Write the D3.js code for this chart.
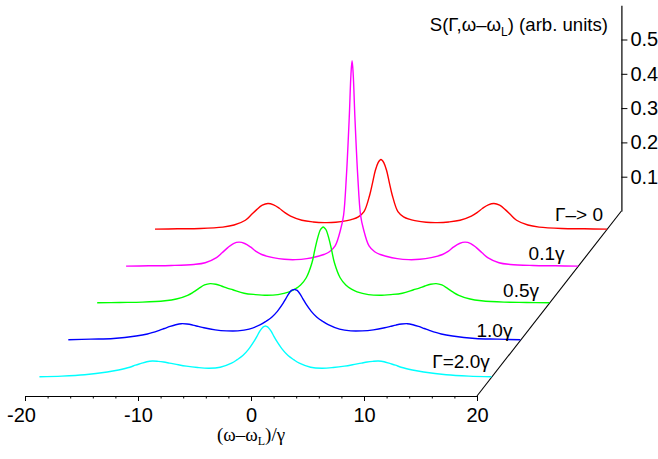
<!DOCTYPE html>
<html>
<head>
<meta charset="utf-8">
<script src="https://cdn.jsdelivr.net/npm/d3@7"></script>
<style>
  html, body { margin: 0; padding: 0; background: #fff; }
  svg { display: block; }
  text { font-family: "Liberation Sans", Arial, sans-serif; fill: #000; }
</style>
</head>
<body>
<svg id="chart" width="658" height="459"></svg>
<script>
// Detuning grid (ω–ω_L)/γ shared by every spectrum
const detuning = [-20,-18,-16,-14,-13,-12,-11.5,-11,-10.5,-10,-9.5,-9,-8.5,-8,-7,-6,-5,-4,-3,-2.5,-2,-1.5,-1,-0.75,-0.5,-0.25,-0.1,
  0,
  0.1,0.25,0.5,0.75,1,1.5,2,2.5,3,4,5,6,7,8,8.5,9,9.5,10,10.5,11,11.5,12,13,14,16,18,20];

// Spectra S(Γ, ω–ω_L), one per laser linewidth Γ (back to front)
const specGamma0 = [0.001,0.002,0.003,0.007,0.013,0.027,0.042,0.058,0.071,0.076,0.072,0.062,0.049,0.039,0.027,0.022,0.020,0.021,0.026,0.030,0.037,0.052,0.100,0.135,0.172,0.195,0.202,
  0.204,
  0.202,0.195,0.172,0.135,0.100,0.052,0.037,0.030,0.026,0.021,0.020,0.022,0.027,0.039,0.049,0.062,0.072,0.076,0.071,0.058,0.042,0.027,0.013,0.007,0.003,0.002,0.001];
const specGamma01 = [0.001,0.002,0.003,0.006,0.011,0.026,0.040,0.055,0.067,0.071,0.067,0.057,0.044,0.035,0.026,0.021,0.020,0.023,0.030,0.035,0.043,0.060,0.110,0.150,0.265,0.435,0.560,
  0.600,
  0.560,0.435,0.265,0.150,0.110,0.060,0.043,0.035,0.030,0.023,0.020,0.021,0.026,0.035,0.044,0.057,0.067,0.071,0.067,0.055,0.040,0.026,0.011,0.006,0.003,0.002,0.001];
const specGamma05 = [0.002,0.003,0.004,0.008,0.013,0.024,0.033,0.044,0.054,0.058,0.056,0.051,0.045,0.040,0.030,0.026,0.024,0.026,0.034,0.042,0.054,0.075,0.118,0.155,0.190,0.215,0.221,
  0.223,
  0.221,0.215,0.190,0.155,0.118,0.075,0.054,0.042,0.034,0.026,0.024,0.026,0.030,0.040,0.045,0.051,0.056,0.058,0.054,0.044,0.033,0.024,0.013,0.008,0.004,0.003,0.002];
const specGamma10 = [0.002,0.004,0.006,0.013,0.019,0.029,0.035,0.041,0.046,0.049,0.048,0.045,0.041,0.037,0.031,0.028,0.028,0.033,0.046,0.056,0.068,0.085,0.108,0.122,0.136,0.146,0.148,
  0.149,
  0.148,0.146,0.136,0.122,0.108,0.085,0.068,0.056,0.046,0.033,0.028,0.028,0.031,0.037,0.041,0.045,0.048,0.049,0.046,0.041,0.035,0.029,0.019,0.013,0.006,0.004,0.002];
const specGamma20 = [0.002,0.004,0.008,0.016,0.022,0.030,0.036,0.041,0.046,0.048,0.047,0.045,0.042,0.039,0.033,0.029,0.027,0.030,0.042,0.052,0.064,0.082,0.106,0.120,0.135,0.146,0.149,
  0.150,
  0.149,0.146,0.135,0.120,0.106,0.082,0.064,0.052,0.042,0.030,0.027,0.029,0.033,0.039,0.042,0.045,0.047,0.048,0.046,0.041,0.036,0.030,0.022,0.016,0.008,0.004,0.002];

// Curve labels, front to back
const seriesLabels = ["Γ=2.0γ", "1.0γ", "0.5γ", "0.1γ", "Γ–> 0"];
const seriesColors = ["#00ffff", "#0000ff", "#00ff00", "#ff00ff", "#ff0000"];
const seriesValues = [specGamma20, specGamma10, specGamma05, specGamma01, specGamma0];

// Axis ticks
const xMajorTicks = [-20, -10, 0, 10, 20];
const xMinorTicks = [-18,-16,-14,-12,-8,-6,-4,-2,2,4,6,8,12,14,16,18];
const zTicks = [0.1, 0.2, 0.3, 0.4, 0.5];

// Where each curve label sits: right end in detuning units, lift in S units
const labelAnchor = [
  { x: 19.85, lift: 0.028 },
  { x: 19.30, lift: 0.010 },
  { x: 19.10, lift: 0.019 },
  { x: 18.80, lift: 0.019 },
  { x: 19.65, lift: 0.025 }
];

const svg = d3.select("#chart");

// Front plane baseline and oblique depth projection
const baseY = 396;
const x = d3.scaleLinear().domain([-20, 20]).range([25, 477]);
const sPix = d3.scaleLinear().domain([0, 0.6]).range([0, -205.8]);
const depth = d3.scalePoint().domain(d3.range(seriesLabels.length)).range([0, 1]).padding(0.5);
const depthX = d3.scaleLinear().domain([0, 1]).range([0, 144.4]);
const depthY = d3.scaleLinear().domain([0, 1]).range([0, -185]);

// Back plane vertical axis scale
const backX = x(20) + depthX(1);
const backY = baseY + depthY(1);
const z = d3.scaleLinear().domain([0, 0.6]).range([backY, backY + sPix(0.6)]);

// Bottom axis: major ticks with labels, minor ticks without
const gx = svg.append("g").attr("transform", `translate(0,${baseY})`);
gx.call(d3.axisBottom(x).tickValues(xMajorTicks).tickSize(5).tickSizeOuter(0).tickFormat(d => String(d)));
gx.selectAll("text").attr("font-size", 20).attr("dy", "0.71em").attr("y", 12)
  .style("font-family", '"Liberation Sans", Arial, sans-serif');
gx.selectAll(".tick text").filter(d => d === -20).attr("dx", -4);
gx.select(".domain").attr("stroke", "#000").attr("stroke-width", 1.2);
gx.selectAll(".tick line").attr("stroke", "#000").attr("stroke-width", 1);

const gxm = svg.append("g").attr("transform", `translate(0,${baseY})`);
gxm.call(d3.axisBottom(x).tickValues(xMinorTicks).tickSize(2.5).tickSizeOuter(0).tickFormat(""));
gxm.select(".domain").remove();
gxm.selectAll(".tick line").attr("stroke", "#000").attr("stroke-width", 1);

// Depth edge joining the front axis to the back plane
svg.append("line")
  .attr("x1", x(20)).attr("y1", baseY)
  .attr("x2", backX).attr("y2", backY)
  .attr("stroke", "#000").attr("stroke-width", 1.1);

// Vertical S axis on the back plane
const gz = svg.append("g").attr("transform", `translate(${backX},0)`);
gz.call(d3.axisRight(z).tickValues(zTicks).tickSize(6).tickSizeOuter(0).tickFormat(d3.format(".1f")));
gz.selectAll("text").attr("font-size", 20).attr("x", 9)
  .style("font-family", '"Liberation Sans", Arial, sans-serif');
gz.select(".domain").attr("stroke", "#000").attr("stroke-width", 1.2);
gz.selectAll(".tick line").attr("stroke", "#000").attr("stroke-width", 1);

// Spectra, drawn from the back plane forward
const order = d3.range(seriesLabels.length).reverse();
const gLines = svg.append("g");
order.forEach(i => {
  const ox = depthX(depth(i));
  const oy = baseY + depthY(depth(i));
  const pts = detuning.map((d, k) => [d, seriesValues[i][k]]);
  const line = d3.line()
    .x(p => x(p[0]) + ox)
    .y(p => oy + sPix(p[1]))
    .curve(d3.curveCatmullRom.alpha(0.5));
  gLines.append("path")
    .datum(pts)
    .attr("d", line)
    .attr("fill", "none")
    .attr("stroke", seriesColors[i])
    .attr("stroke-width", 1.4)
    .attr("stroke-linejoin", "round");
});

// Curve labels
seriesLabels.forEach((lab, i) => {
  const ox = depthX(depth(i));
  const oy = baseY + depthY(depth(i));
  svg.append("text")
    .attr("x", x(labelAnchor[i].x) + ox)
    .attr("y", oy + sPix(labelAnchor[i].lift))
    .attr("text-anchor", "end")
    .attr("font-size", 19)
    .text(lab);
});

// Axis titles
const zTitle = svg.append("text")
  .attr("x", 608).attr("y", 31)
  .attr("text-anchor", "end")
  .attr("font-size", 18.6);
zTitle.append("tspan").text("S(Γ,ω–ω");
zTitle.append("tspan").attr("font-size", 12).attr("dy", 5).text("L");
zTitle.append("tspan").attr("dy", -5).text(") (arb. units)");

const xTitle = svg.append("text")
  .attr("x", x(0)).attr("y", 441)
  .attr("text-anchor", "middle")
  .attr("font-size", 19)
  .style("font-family", '"Liberation Serif", "Times New Roman", serif');
xTitle.append("tspan").text("(ω–ω");
xTitle.append("tspan").attr("font-size", 12).attr("dy", 4).text("L");
xTitle.append("tspan").attr("dy", -4).text(")/γ");
</script>
</body>
</html>
